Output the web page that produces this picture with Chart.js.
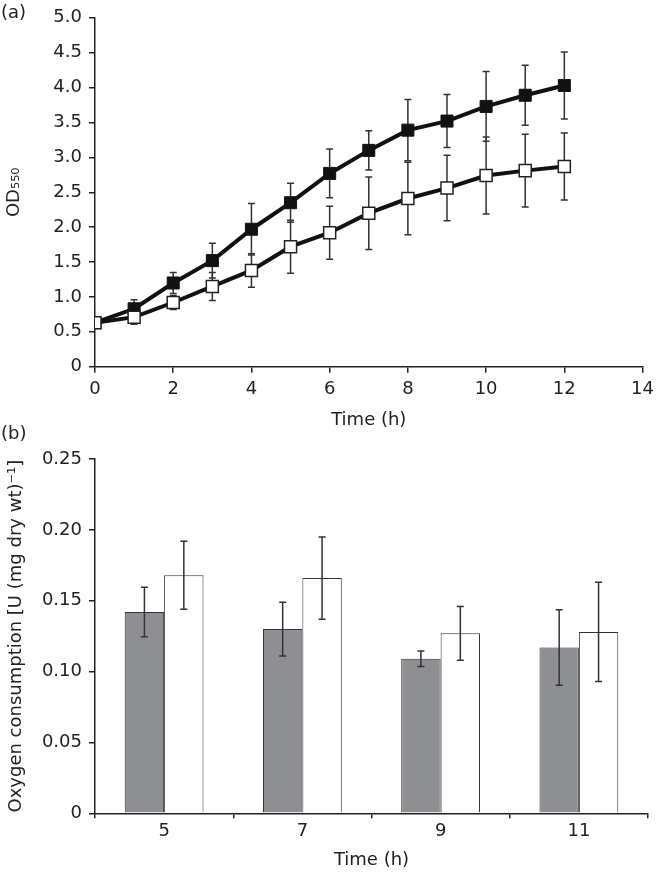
<!DOCTYPE html>
<html>
<head>
<meta charset="utf-8">
<script src="https://cdn.jsdelivr.net/npm/chart.js"></script>
<style>
  body { margin: 0; background: #fff; }
  #wrap { position: relative; width: 660px; height: 872px; }
  .panel { position: absolute; left: 0; }
  .tag { position: absolute; left: 1px; font: 18px "DejaVu Sans", sans-serif; color: #222; line-height: 22px; }
</style>
</head>
<body>
<div id="wrap">
  <canvas id="growth" class="panel" width="660" height="436" style="top:0"></canvas>
  <canvas id="oxygen" class="panel" width="660" height="436" style="top:436px"></canvas>
  <div class="tag" style="top:1px">(a)</div>
  <div class="tag" style="top:422px">(b)</div>
</div>
<script>
// panel (a) - OD550 over time
var hours = [0, 1, 2, 3, 4, 5, 6, 7, 8, 9, 10, 11, 12]
var odFilled = [0.63, 0.83, 1.2, 1.52, 1.97, 2.35, 2.77, 3.1, 3.39, 3.52, 3.73, 3.89, 4.03]
var odFilledErr = [0, 0.13, 0.15, 0.25, 0.37, 0.28, 0.35, 0.28, 0.44, 0.38, 0.5, 0.43, 0.48]
var odOpen = [0.63, 0.71, 0.92, 1.15, 1.38, 1.72, 1.92, 2.2, 2.41, 2.56, 2.74, 2.81, 2.87]
var odOpenErr = [0, 0.1, 0.1, 0.2, 0.24, 0.38, 0.38, 0.52, 0.52, 0.47, 0.55, 0.52, 0.48]

// panel (b) - oxygen consumption
var barHours = ['5', '7', '9', '11']
var o2Grey = [0.142, 0.130, 0.109, 0.117]
var o2GreyErr = [0.0175, 0.019, 0.0055, 0.0266]
var o2White = [0.168, 0.166, 0.127, 0.128]
var o2WhiteErr = [0.024, 0.029, 0.019, 0.035]

var ink = '#222'
var font = { family: '"DejaVu Sans", sans-serif', size: 18 }

function drawErrors(chart, o) {
    var ctx = chart.ctx
    var y = chart.scales.y
    ctx.save()
    ctx.strokeStyle = o.color
    ctx.lineWidth = o.width
    chart.data.datasets.forEach(function (ds, i) {
        var meta = chart.getDatasetMeta(i)
        meta.data.forEach(function (el, j) {
            var v = ds.data[j]
            if (typeof v === 'object') v = v.y
            var e = ds.errors[j]
            if (!e) return
            var top = y.getPixelForValue(v + e)
            var bot = y.getPixelForValue(v - e)
            ctx.beginPath()
            ctx.moveTo(el.x, top); ctx.lineTo(el.x, bot)
            ctx.moveTo(el.x - o.cap, top); ctx.lineTo(el.x + o.cap, top)
            ctx.moveTo(el.x - o.cap, bot); ctx.lineTo(el.x + o.cap, bot)
            ctx.stroke()
        })
    })
    ctx.restore()
}

var errorBars = {
    id: 'errorBars',
    beforeDatasetsDraw: function (chart, args, opts) { if (opts.behind) drawErrors(chart, opts) },
    afterDatasetsDraw: function (chart, args, opts) { if (!opts.behind) drawErrors(chart, opts) }
}

function axisGrid(len) {
    return { drawOnChartArea: false, drawTicks: true, tickLength: len, color: ink, lineWidth: 1.5 }
}
var axisBorder = { color: ink, width: 1.5 }

new Chart(document.getElementById('growth'), {
    type: 'line',
    data: {
        datasets: [{
            data: hours.map(function (h, i) { return { x: h, y: odOpen[i] } }),
            errors: odOpenErr,
            borderColor: '#111',
            borderWidth: 4,
            pointStyle: 'rect',
            pointRadius: 8.5,
            pointBackgroundColor: '#fff',
            pointBorderColor: '#222',
            pointBorderWidth: 1.5,
            tension: 0
        }, {
            data: hours.map(function (h, i) { return { x: h, y: odFilled[i] } }),
            errors: odFilledErr,
            borderColor: '#111',
            borderWidth: 4,
            pointStyle: 'rect',
            pointRadius: 8.5,
            pointBackgroundColor: '#111',
            pointBorderColor: '#111',
            pointBorderWidth: 1,
            tension: 0
        }]
    },
    options: {
        responsive: false,
        animation: false,
        layout: { padding: { top: 12, right: 12, bottom: 0, left: 0 } },
        plugins: {
            legend: { display: false },
            tooltip: { enabled: false },
            errorBars: { behind: true, color: '#333', width: 1.5, cap: 3.5 }
        },
        scales: {
            x: {
                type: 'linear', min: 0, max: 14,
                ticks: { stepSize: 2, color: ink, font: font, padding: 6, maxRotation: 0 },
                grid: axisGrid(6),
                border: axisBorder,
                title: { display: true, text: 'Time (h)', color: ink, font: font, padding: { top: 0, bottom: 5 } },
                afterFit: function (s) { s.height = 69.3 }
            },
            y: {
                min: 0, max: 5,
                ticks: {
                    stepSize: 0.5, color: ink, font: font, padding: 7,
                    callback: function (v) { return v === 0 ? '0' : v.toFixed(1) }
                },
                grid: axisGrid(6),
                border: axisBorder,
                title: { display: true, text: 'OD₅₅₀', color: ink, font: font, padding: { top: 4, bottom: 0 } },
                afterFit: function (s) { s.width = 95 }
            }
        }
    },
    plugins: [errorBars]
})

new Chart(document.getElementById('oxygen'), {
    type: 'bar',
    data: {
        labels: barHours,
        datasets: [{
            data: o2Grey,
            errors: o2GreyErr,
            backgroundColor: '#8e8f93',
            borderColor: '#333',
            borderWidth: 1
        }, {
            data: o2White,
            errors: o2WhiteErr,
            backgroundColor: '#fff',
            borderColor: '#333',
            borderWidth: 1
        }]
    },
    options: {
        responsive: false,
        animation: false,
        categoryPercentage: 0.57,
        barPercentage: 1,
        layout: { padding: { top: 23, right: 12, bottom: 0, left: 0 } },
        plugins: {
            legend: { display: false },
            tooltip: { enabled: false },
            errorBars: { behind: false, color: '#333', width: 1.5, cap: 3.5 }
        },
        scales: {
            x: {
                ticks: { color: ink, font: font, padding: 2, maxRotation: 0 },
                grid: Object.assign(axisGrid(5), { offset: true }),
                border: axisBorder,
                title: { display: true, text: 'Time (h)', color: ink, font: font, padding: { top: 0, bottom: 1 } },
                afterFit: function (s) { s.height = 58.7 }
            },
            y: {
                min: 0, max: 0.25,
                ticks: {
                    stepSize: 0.05, color: ink, font: font, padding: 7,
                    callback: function (v) { return v === 0 ? '0' : v.toFixed(2) }
                },
                grid: axisGrid(6),
                border: axisBorder,
                title: { display: true, text: 'Oxygen consumption [U (mg dry wt)⁻¹]', color: ink, font: font, padding: { top: 6, bottom: 0 } },
                afterFit: function (s) { s.width = 95 }
            }
        }
    },
    plugins: [errorBars]
})
</script>
</body>
</html>
